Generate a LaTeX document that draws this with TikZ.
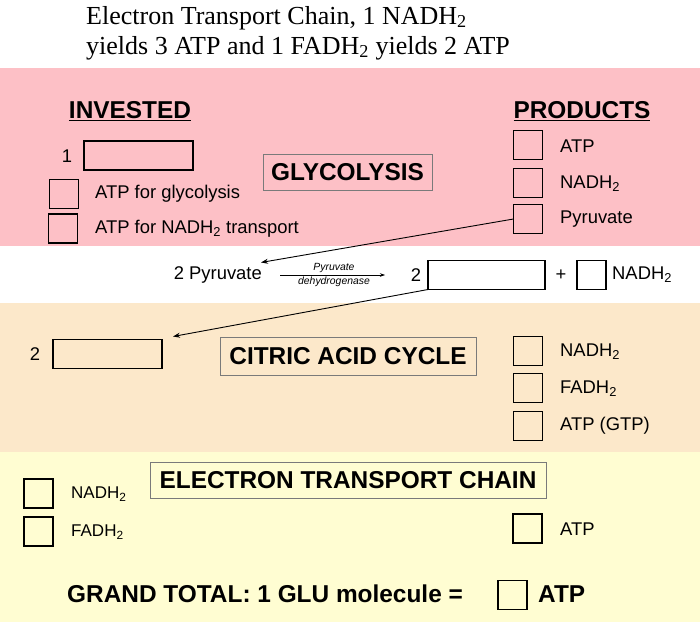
\documentclass[tikz,border=0pt]{standalone}
\usepackage{fontspec}
\setmainfont{Liberation Sans}
\newfontfamily\titlefont{Liberation Serif}
\usetikzlibrary{arrows.meta}
\definecolor{pinkband}{HTML}{FDC0C6}
\definecolor{peachband}{HTML}{FCE8CA}
\definecolor{yellowband}{HTML}{FFFDD2}
\definecolor{stageframe}{HTML}{7A7A7A}
\begin{document}
\begin{tikzpicture}[x=1pt,y=-1pt,
  sqbox/.style={draw=black,line width=1.4pt,minimum width=29pt,minimum height=29pt,inner sep=0pt,outer sep=0pt},
  longbox/.style={draw=black,line width=1.4pt,minimum width=109pt,minimum height=29pt,inner sep=0pt,outer sep=0pt},
  lbl/.style={font=\fontsize{18.4}{21}\selectfont,anchor=west,inner sep=0pt},
  slbl/.style={font=\fontsize{17}{20}\selectfont,anchor=west,inner sep=0pt},
  head/.style={font=\fontsize{24.4}{28}\selectfont\bfseries,inner sep=0pt},
  stagebox/.style={draw=stageframe,line width=0.8pt,font=\fontsize{24.4}{28}\selectfont\bfseries,inner sep=0pt},
  titletxt/.style={font=\titlefont\fontsize{26}{30}\selectfont,anchor=west,inner sep=0pt},
  conn/.style={line width=0.9pt,-{Stealth[length=7pt,width=5pt]}}
]
\useasboundingbox (0,0) rectangle (700,628);
\fill[white] (0,0) rectangle (700,628);
\fill[pinkband] (0,68) rectangle (700,246);
\fill[peachband] (0,303) rectangle (700,452);
\fill[yellowband] (0,452) rectangle (700,622);

% title
\node[titletxt] (t1) at (86,18) {Electron Transport Chain, 1 NADH\textsubscript{2}};
\node[titletxt] (t2) at (86,48) {yields 3 ATP and 1 FADH\textsubscript{2} yields 2 ATP};

% glycolysis
\node[head] (inv) at (130,111) {\underline{INVESTED}};
\node[head] (prod) at (582,111) {\underline{PRODUCTS}};
\node[lbl,anchor=center] (one) at (67,156) {1};
\node[longbox] (glu) at (138.5,155.5) {};
\node[sqbox] (s1) at (64,194) {};
\node[lbl] (l1) at (95,194) {ATP for glycolysis};
\node[sqbox] (s2) at (63,228.5) {};
\node[lbl] (l2) at (95,229) {ATP for NADH\textsubscript{2} transport};
\node[stagebox,minimum width=169pt,minimum height=36pt] (gly) at (347.5,172) {GLYCOLYSIS};
\node[sqbox] (p1) at (528,145) {};
\node[lbl] (pl1) at (560,146) {ATP};
\node[sqbox] (p2) at (528,183) {};
\node[lbl] (pl2) at (560,184) {NADH\textsubscript{2}};
\node[sqbox] (p3) at (528,219) {};
\node[lbl] (pl3) at (560,219) {Pyruvate};

% link reaction
\node[lbl,anchor=east] (pyr) at (262,275) {2 Pyruvate};
\coordinate (ea) at (280,275);
\coordinate (eb) at (385,275);
\draw[line width=0.6pt,-{Stealth[length=5pt,width=3.5pt]}] (ea) -- (eb);
\node[font=\fontsize{10.4}{12}\selectfont\itshape,inner sep=0pt] (enz1) at (334,268) {Pyruvate};
\node[font=\fontsize{10.4}{12}\selectfont\itshape,inner sep=0pt] (enz2) at (334,282) {dehydrogenase};
\node[lbl,anchor=center] (two1) at (416,275) {2};
\node[longbox,minimum width=117pt] (acet) at (486.5,275) {};
\node[lbl,anchor=center] (plus) at (561,275) {+};
\node[sqbox] (nsq) at (591.5,275) {};
\node[lbl] (nl) at (612,275) {NADH\textsubscript{2}};
\draw[conn] (p3.west) -- ([xshift=-1pt,yshift=4pt]pyr.north east);

% citric acid cycle
\node[lbl,anchor=center] (two2) at (35,354) {2};
\node[longbox] (acin) at (107.5,354) {};
\draw[conn] (acet.south west) -- ([xshift=11pt,yshift=3pt]acin.north east);
\node[stagebox,minimum width=256pt,minimum height=38pt] (cac) at (348,356) {CITRIC ACID CYCLE};
\node[sqbox] (c1) at (528,351) {};
\node[lbl] (cl1) at (560,352) {NADH\textsubscript{2}};
\node[sqbox] (c2) at (528,388) {};
\node[lbl] (cl2) at (560,389) {FADH\textsubscript{2}};
\node[sqbox] (c3) at (528,426) {};
\node[lbl] (cl3) at (560,426) {ATP (GTP)};

% electron transport chain
\node[sqbox] (e1) at (38.5,493.5) {};
\node[slbl] (el1) at (71,494) {NADH\textsubscript{2}};
\node[sqbox] (e2) at (38.5,531.5) {};
\node[slbl] (el2) at (71,532) {FADH\textsubscript{2}};
\node[stagebox,minimum width=396pt,minimum height=36pt] (etc) at (348,480) {ELECTRON TRANSPORT CHAIN};
\node[sqbox] (e3) at (527.5,528.5) {};
\node[lbl] (el3) at (560,529) {ATP};

% grand total
\node[font=\fontsize{24.4}{28}\selectfont\bfseries,anchor=west,inner sep=0pt] (gt) at (67,594) {GRAND TOTAL: 1 GLU molecule =};
\node[sqbox] (gsq) at (512.5,595) {};
\node[font=\fontsize{24.4}{28}\selectfont\bfseries,anchor=west,inner sep=0pt] (gatp) at (538,594) {ATP};
\end{tikzpicture}
\end{document}
